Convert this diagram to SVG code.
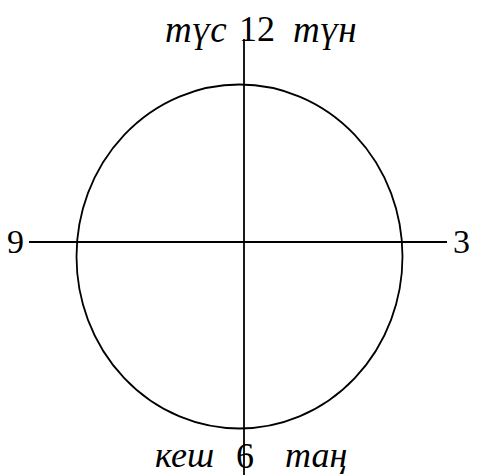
<svg xmlns="http://www.w3.org/2000/svg" width="478" height="475" viewBox="0 0 478 475">
<style>
.ln{stroke:#000;stroke-width:1.8;fill:none}
.lbl{font-family:"Liberation Serif","Times New Roman",serif;fill:#000}
.it{font-style:italic}
</style>
<rect width="478" height="475" fill="#fff"/>
<g id="circle"><ellipse class="ln" cx="239.5" cy="256.5" rx="163" ry="172"/></g>
<g id="connectors">
<line class="ln" x1="244" y1="39" x2="244" y2="475"/>
<line class="ln" x1="29" y1="242" x2="447" y2="242"/>
</g>
<g id="top">
<text class="lbl it" x="165" y="42" font-size="37">түс</text>
<text class="lbl" x="239" y="41" font-size="36">12</text>
<text class="lbl it" x="293" y="42" font-size="37">түн</text>
</g>
<g id="bottom">
<text class="lbl it" x="155" y="467" font-size="36">кеш</text>
<text class="lbl" x="236" y="468" font-size="36">6</text>
<text class="lbl it" x="285" y="467" font-size="36">таң</text>
</g>
<g id="left"><text class="lbl" x="7" y="253" font-size="34">9</text></g>
<g id="right"><text class="lbl" x="453" y="253" font-size="34">3</text></g>
</svg>
